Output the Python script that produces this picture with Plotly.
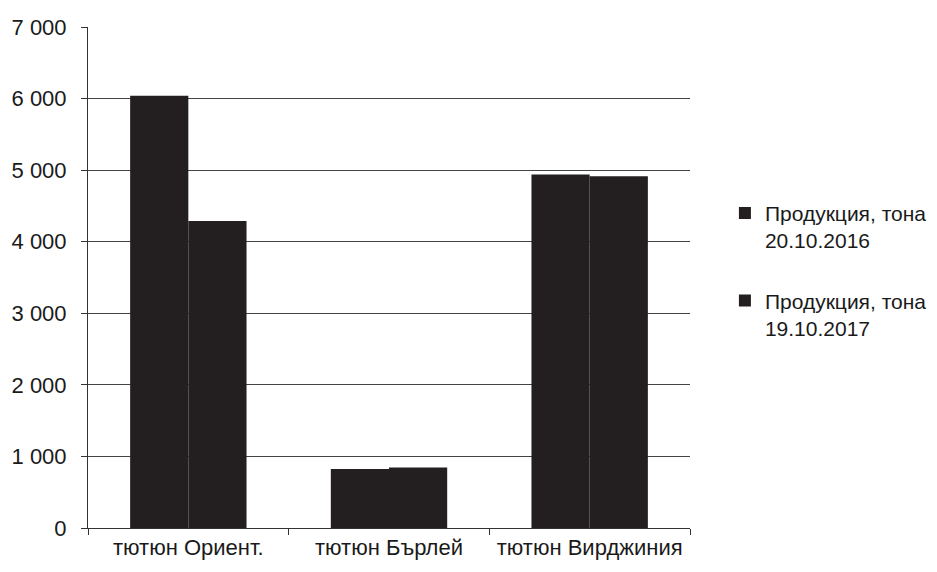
import plotly.graph_objects as go

categories = ["тютюн Ориент.", "тютюн Бърлей", "тютюн Вирджиния"]
series_names = ["Продукция, тона<br>20.10.2016", "Продукция, тона<br>19.10.2017"]
values_2016 = [6040, 825, 4940]
values_2017 = [4290, 844, 4915]
y_ticks = [0, 1000, 2000, 3000, 4000, 5000, 6000, 7000]

FONT = "Liberation Sans, Arial, sans-serif"
BAR = "#231f20"
TXT = "#1a1a1a"

fig = go.Figure()
fig.add_trace(go.Bar(x=categories, y=values_2016, name=series_names[0],
                     marker=dict(color=BAR, line=dict(width=0)), legendgroup="a"))
fig.add_trace(go.Bar(x=categories, y=values_2017, name=series_names[1],
                     marker=dict(color=BAR, line=dict(width=0)), legendgroup="b"))

fig.update_layout(
    width=937, height=572,
    margin=dict(l=80, r=255, t=19, b=52, autoexpand=False),
    paper_bgcolor="white", plot_bgcolor="white",
    barmode="group", bargap=0.42, bargroupgap=0,
    separators=", ",
    font=dict(family=FONT, size=22, color=TXT),
    showlegend=True,
    legend=dict(x=1.058, xanchor="left", y=0.669, yanchor="top",
                font=dict(family=FONT, size=21, color=TXT),
                valign="top", traceorder="grouped", tracegroupgap=30,
                itemwidth=30, bgcolor="rgba(0,0,0,0)"),
    xaxis=dict(showline=True, linecolor="#333", linewidth=1, automargin=False,
               ticks="outside", tickson="boundaries", ticklen=6, tickcolor="#333",
               showgrid=False, tickfont=dict(family=FONT, size=22, color=TXT)),
    yaxis=dict(range=[0, 7000], tickvals=y_ticks, tickformat=",d", automargin=False,
               showline=True, linecolor="#333", linewidth=1,
               ticks="outside", ticklen=6, tickcolor="#333", ticklabelstandoff=10,
               showgrid=True, gridcolor="#444", gridwidth=1,
               zeroline=False, tickfont=dict(family=FONT, size=22, color=TXT)),
)

fig.write_html("out.html")
